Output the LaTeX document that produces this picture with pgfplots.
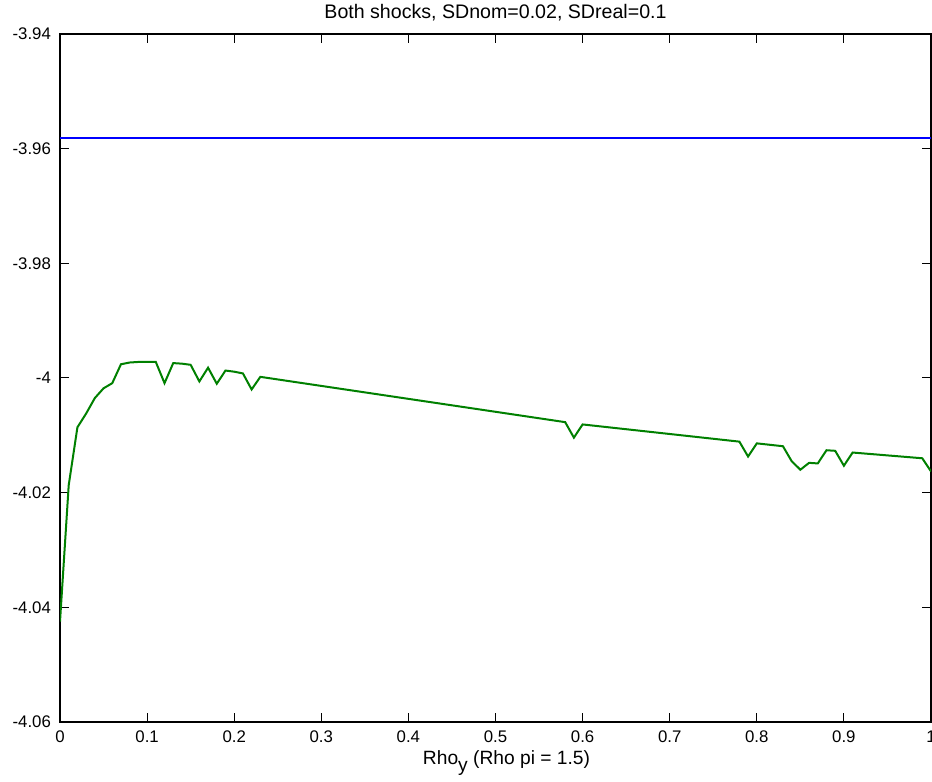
\documentclass[border=0pt]{standalone}
\usepackage{pgfplots}
\pgfplotsset{compat=1.18}
\usepackage{fontspec}
\setmainfont{Liberation Sans}
\begin{document}
\begin{tikzpicture}[font=\fontsize{8.4}{10}\selectfont]
\begin{axis}[
  name=ax,
  scale only axis,
  width=435.5pt, height=344pt,
  xmin=0, xmax=1, ymin=-4.06, ymax=-3.94,
  xtick={0,0.1,...,1.0},
  xticklabels={0,0.1,0.2,0.3,0.4,0.5,0.6,0.7,0.8,0.9,1},
  ytick={-4.06,-4.04,-4.02,-4,-3.98,-3.96,-3.94},
  yticklabels={-4.06,-4.04,-4.02,-4,-3.98,-3.96,-3.94},
  tick align=inside,
  major tick length=4.5pt,
  axis line style={line width=0.6pt},
  every tick/.style={black, line width=0.5pt},
  xticklabel style={yshift=-1pt},
  yticklabel style={xshift=-1pt},
  title={Both shocks, SDnom=0.02, SDreal=0.1},
  title style={yshift=-3pt, font=\fontsize{9.8}{11}\selectfont},
  xlabel={Rho\raisebox{-0.7ex}{y} (Rho pi = 1.5)},
  xlabel style={yshift=3pt, xshift=5.5pt, font=\fontsize{9.6}{11}\selectfont},
  clip=true,
]
\addplot[color={rgb,255:red,0;green,0;blue,255}, line width=1pt] coordinates {
(0,-3.9582) (1,-3.9582)
};
\addplot[color={rgb,255:red,0;green,128;blue,0}, line width=1pt] coordinates {
(0.00,-4.0425)
(0.01,-4.0187)
(0.02,-4.0086)
(0.03,-4.0062)
(0.04,-4.0035)
(0.05,-4.0018)
(0.06,-4.0009)
(0.07,-3.9976)
(0.08,-3.9973)
(0.09,-3.9972)
(0.10,-3.9972)
(0.11,-3.9972)
(0.12,-4.0009)
(0.13,-3.9974)
(0.14,-3.9975)
(0.15,-3.9977)
(0.16,-4.0006)
(0.17,-3.9982)
(0.18,-4.0010)
(0.19,-3.9987)
(0.20,-3.9989)
(0.21,-3.9992)
(0.22,-4.0020)
(0.23,-3.9998)
(0.58,-4.0077)
(0.59,-4.0104)
(0.60,-4.0081)
(0.78,-4.0111)
(0.79,-4.0137)
(0.80,-4.0114)
(0.83,-4.0119)
(0.84,-4.0145)
(0.85,-4.0160)
(0.86,-4.0148)
(0.87,-4.0149)
(0.88,-4.0126)
(0.89,-4.0127)
(0.90,-4.0153)
(0.91,-4.0130)
(0.99,-4.0140)
(1.00,-4.0163)
};
\end{axis}
\pgfresetboundingbox
\path ([xshift=-30pt,yshift=-30pt]ax.south west) rectangle ([xshift=0.5pt,yshift=17pt]ax.north east);
\end{tikzpicture}
\end{document}
